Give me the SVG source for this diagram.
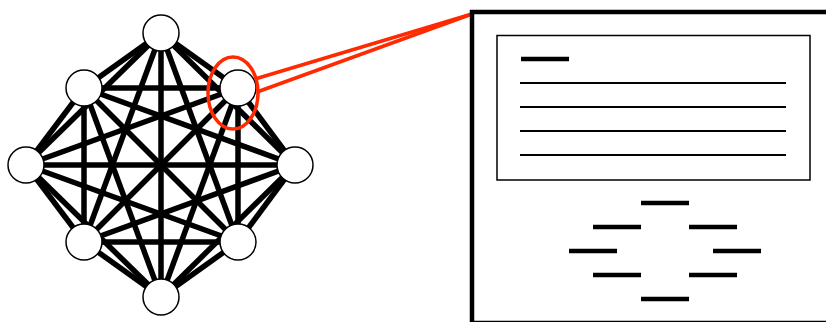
<svg xmlns="http://www.w3.org/2000/svg" width="826" height="322" viewBox="0 0 826 322">
<style>
.e{stroke:#000;stroke-width:5.5;stroke-linecap:butt;fill:none}
.n{fill:#fff;stroke:#000;stroke-width:1.5}
.red{stroke:#ff2a00;stroke-width:3.5;fill:none}
.thin{stroke:#000;stroke-width:2}
.bar{stroke:#000;stroke-width:4.5}
</style>
<rect width="826" height="322" fill="#fff"/>
<g id="connectors">
<line class="e" x1="161" y1="33" x2="238" y2="88"/>
<line class="e" x1="161" y1="33" x2="295" y2="165"/>
<line class="e" x1="161" y1="33" x2="238" y2="242"/>
<line class="e" x1="161" y1="33" x2="161" y2="297"/>
<line class="e" x1="161" y1="33" x2="84" y2="242"/>
<line class="e" x1="161" y1="33" x2="26" y2="165"/>
<line class="e" x1="161" y1="33" x2="84" y2="88"/>
<line class="e" x1="238" y1="88" x2="295" y2="165"/>
<line class="e" x1="238" y1="88" x2="238" y2="242"/>
<line class="e" x1="238" y1="88" x2="161" y2="297"/>
<line class="e" x1="238" y1="88" x2="84" y2="242"/>
<line class="e" x1="238" y1="88" x2="26" y2="165"/>
<line class="e" x1="238" y1="88" x2="84" y2="88"/>
<line class="e" x1="295" y1="165" x2="238" y2="242"/>
<line class="e" x1="295" y1="165" x2="161" y2="297"/>
<line class="e" x1="295" y1="165" x2="84" y2="242"/>
<line class="e" x1="295" y1="165" x2="26" y2="165"/>
<line class="e" x1="295" y1="165" x2="84" y2="88"/>
<line class="e" x1="238" y1="242" x2="161" y2="297"/>
<line class="e" x1="238" y1="242" x2="84" y2="242"/>
<line class="e" x1="238" y1="242" x2="26" y2="165"/>
<line class="e" x1="238" y1="242" x2="84" y2="88"/>
<line class="e" x1="161" y1="297" x2="84" y2="242"/>
<line class="e" x1="161" y1="297" x2="26" y2="165"/>
<line class="e" x1="161" y1="297" x2="84" y2="88"/>
<line class="e" x1="84" y1="242" x2="26" y2="165"/>
<line class="e" x1="84" y1="242" x2="84" y2="88"/>
<line class="e" x1="26" y1="165" x2="84" y2="88"/>
</g>
<g id="node-top"><circle class="n" cx="161" cy="33" r="18"/></g>
<g id="node-upper-right"><circle class="n" cx="238" cy="88" r="18"/></g>
<g id="node-right"><circle class="n" cx="295" cy="165" r="18"/></g>
<g id="node-lower-right"><circle class="n" cx="238" cy="242" r="18"/></g>
<g id="node-bottom"><circle class="n" cx="161" cy="297" r="18"/></g>
<g id="node-lower-left"><circle class="n" cx="84" cy="242" r="18"/></g>
<g id="node-left"><circle class="n" cx="26" cy="165" r="18"/></g>
<g id="node-upper-left"><circle class="n" cx="84" cy="88" r="18"/></g>
<g id="zoom-callout">
<ellipse class="red" cx="233" cy="93" rx="25" ry="36"/>
<line class="red" x1="255" y1="79" x2="472" y2="14"/>
<line class="red" x1="257" y1="92" x2="472" y2="14"/>
</g>
<g id="detail-panel">
<rect x="472" y="12" width="360" height="311" fill="#fff" stroke="#000" stroke-width="4.5"/>
<rect x="497" y="35.5" width="313" height="144.5" fill="#fff" stroke="#000" stroke-width="1.5"/>
<line class="bar" x1="521" y1="59" x2="569" y2="59"/>
<line class="thin" x1="520" y1="83" x2="786" y2="83"/>
<line class="thin" x1="520" y1="107" x2="786" y2="107"/>
<line class="thin" x1="520" y1="131" x2="786" y2="131"/>
<line class="thin" x1="520" y1="155" x2="786" y2="155"/>
<line class="bar" x1="641" y1="203" x2="689" y2="203"/>
<line class="bar" x1="593" y1="227" x2="641" y2="227"/>
<line class="bar" x1="689" y1="227" x2="737" y2="227"/>
<line class="bar" x1="569" y1="251" x2="617" y2="251"/>
<line class="bar" x1="713" y1="251" x2="761" y2="251"/>
<line class="bar" x1="593" y1="275" x2="641" y2="275"/>
<line class="bar" x1="689" y1="275" x2="737" y2="275"/>
<line class="bar" x1="641" y1="299" x2="689" y2="299"/>
</g>
</svg>
